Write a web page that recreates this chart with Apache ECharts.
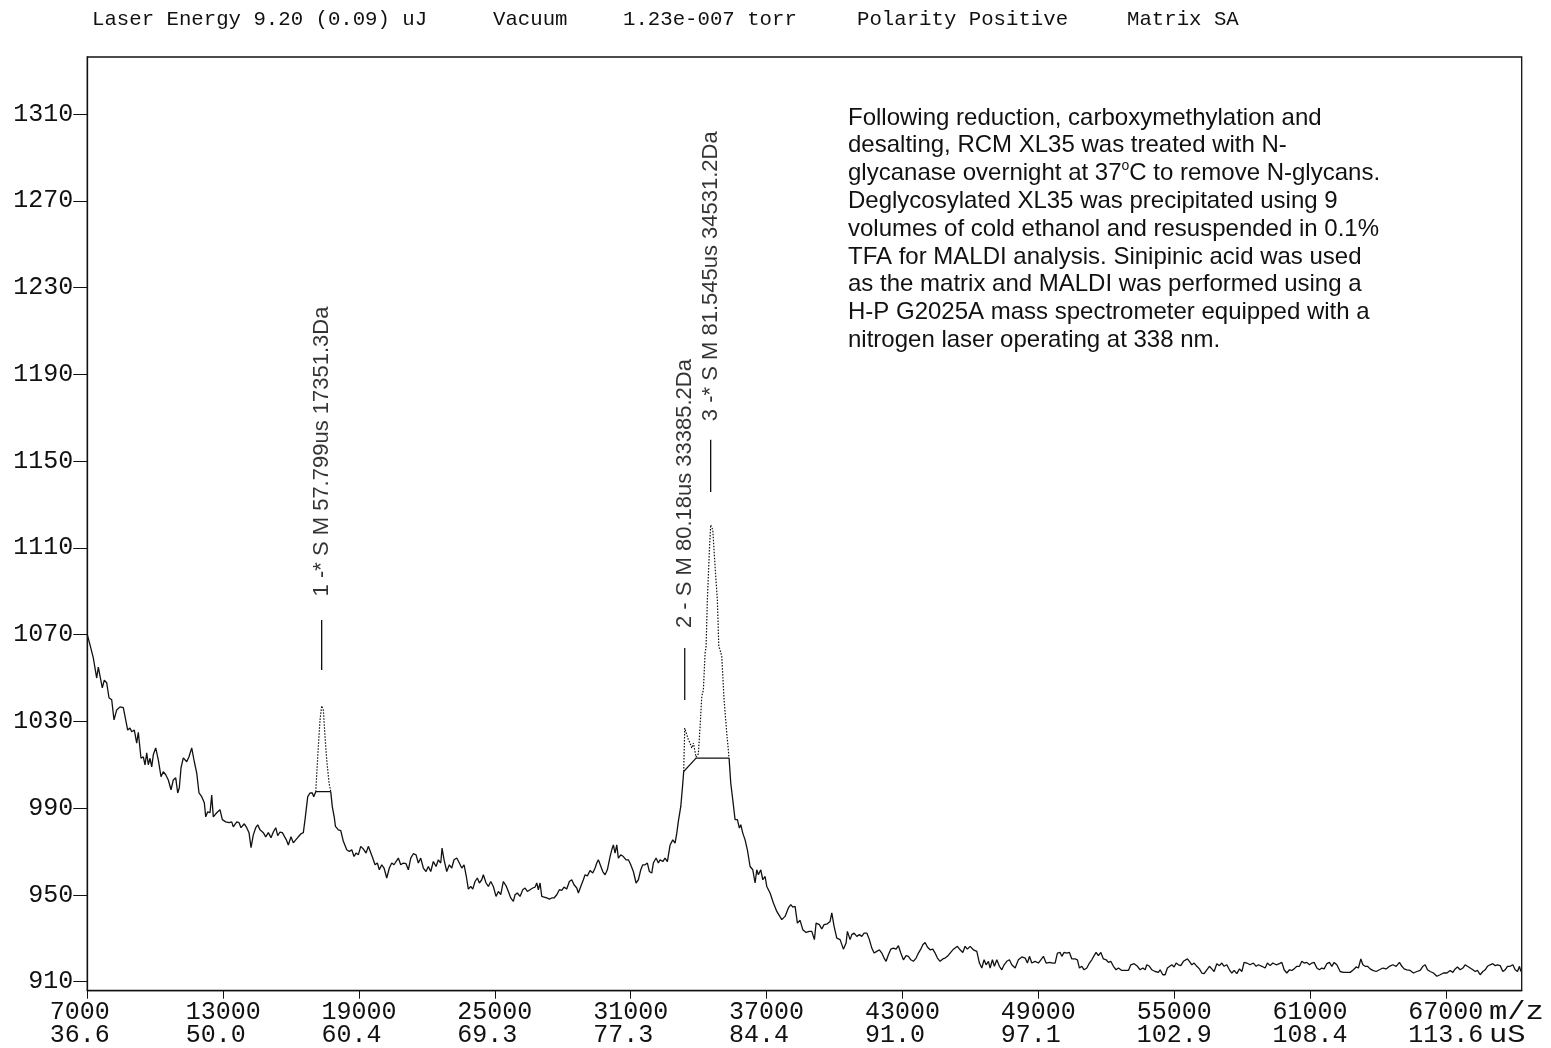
<!DOCTYPE html>
<html>
<head>
<meta charset="utf-8">
<title>MALDI spectrum – deglycosylated RCM XL35</title>
<script src="https://cdn.jsdelivr.net/npm/echarts@6/dist/echarts.min.js"></script>
<style>
  html, body { margin: 0; padding: 0; background: #ffffff; }
  #chart { width: 1551px; height: 1048px; }
</style>
</head>
<body>
<div id="chart"></div>
<script>
// Axis ticks: m/z positions with their flight times (uS)
const xTickValues = [7000, 13000, 19000, 25000, 31000, 37000, 43000, 49000, 55000, 61000, 67000];
const xTimeLabels = ['36.6', '50.0', '60.4', '69.3', '77.3', '84.4', '91.0', '97.1', '102.9', '108.4', '113.6'];
const yTickValues = [910, 950, 990, 1030, 1070, 1110, 1150, 1190, 1230, 1270, 1310];

// Spectrum trace: m/z and detector counts
const mzValues = [
  7000, 7120, 7265, 7415, 7486, 7561, 7663, 7751, 7857, 7958, 8078, 8179, 8299, 8444, 8590, 8665, 8784, 8886, 8961, 9076,
  9182, 9253, 9372, 9474, 9549, 9624, 9694, 9769, 9845, 9915, 10021, 10136, 10255, 10357, 10463, 10578, 10697, 10799, 10905, 10993,
  11064, 11139, 11240, 11391, 11492, 11611, 11726, 11832, 11934, 12053, 12168, 12230, 12318, 12420, 12495, 12565, 12716, 12861, 12963, 13113,
  13259, 13378, 13449, 13599, 13701, 13789, 13935, 14041, 14142, 14231, 14332, 14438, 14527, 14628, 14774, 14880, 14995, 15114, 15216, 15322,
  15410, 15512, 15613, 15701, 15790, 15878, 15997, 16099, 16205, 16320, 16439, 16541, 16616, 16735, 16837, 16938, 17000, 17089, 17203, 17278,
  17351, 17424, 17499, 17574, 17676, 17751, 17822, 17910, 17960, 18087, 18193, 18308, 18458, 18573, 18679, 18780, 18869, 18970, 19076, 19191,
  19310, 19412, 19487, 19606, 19708, 19809, 19898, 20004, 20105, 20225, 20339, 20445, 20547, 20635, 20737, 20843, 20958, 21077, 21179, 21285,
  21399, 21519, 21620, 21726, 21841, 21960, 22062, 22168, 22283, 22402, 22504, 22610, 22667, 22756, 22875, 22990, 23096, 23197, 23317, 23431,
  23537, 23639, 23727, 23829, 23935, 24023, 24125, 24226, 24315, 24421, 24491, 24611, 24712, 24818, 24933, 25052, 25154, 25260, 25375, 25494,
  25596, 25702, 25816, 25892, 25993, 26112, 26232, 26333, 26435, 26554, 26673, 26775, 26850, 26921, 26996, 27071, 27172, 27292, 27407, 27513,
  27614, 27734, 27848, 27954, 28056, 28175, 28290, 28396, 28497, 28617, 28688, 28794, 28908, 28984, 29085, 29205, 29324, 29426, 29500, 29571,
  29646, 29765, 29867, 29968, 30088, 30163, 30233, 30309, 30384, 30454, 30560, 30675, 30794, 30896, 31002, 31117, 31236, 31338, 31444, 31532,
  31634, 31735, 31824, 31930, 32000, 32120, 32221, 32296, 32416, 32517, 32619, 32738, 32858, 32959, 33034, 33105, 33211, 33300, 33340, 33385,
  33547, 33621, 33697, 33767, 33886, 33988, 34063, 34138, 34209, 34284, 34328, 34385, 34474, 34531, 34624, 34726, 34827, 34889, 34946, 35021,
  35123, 35242, 35344, 35419, 35507, 35609, 35711, 35799, 35861, 35949, 36051, 36152, 36272, 36391, 36493, 36568, 36638, 36744, 36833, 36934,
  37009, 37155, 37301, 37451, 37672, 37817, 37963, 38069, 38158, 38259, 38361, 38480, 38599, 38745, 38891, 38997, 39112, 39187, 39332, 39438,
  39540, 39686, 39805, 39880, 39982, 40101, 40247, 40393, 40512, 40569, 40689, 40764, 40865, 40984, 41099, 41205, 41307, 41426, 41541, 41647,
  41749, 41868, 41983, 42089, 42190, 42279, 42380, 42486, 42601, 42720, 42822, 42928, 43043, 43162, 43264, 43370, 43484, 43604, 43706, 43811,
  43900, 44001, 44103, 44222, 44341, 44443, 44545, 44664, 44783, 44885, 44986, 45105, 45225, 45326, 45428, 45547, 45666, 45768, 45870, 45989,
  46135, 46285, 46400, 46506, 46607, 46696, 46798, 46872, 46974, 47062, 47168, 47283, 47389, 47491, 47610, 47725, 47831, 47977, 48122, 48273,
  48419, 48520, 48609, 48714, 48860, 49006, 49112, 49227, 49346, 49492, 49642, 49743, 49845, 49964, 50040, 50141, 50260, 50375, 50481, 50627,
  50728, 50817, 50923, 51024, 51143, 51258, 51364, 51466, 51554, 51656, 51762, 51877, 51996, 52098, 52203, 52318, 52438, 52540, 52690, 52836,
  52981, 53087, 53233, 53379, 53498, 53617, 53719, 53794, 53909, 54015, 54160, 54306, 54381, 54500, 54602, 54704, 54792, 54898, 55000, 55088,
  55189, 55295, 55410, 55485, 55587, 55675, 55781, 55883, 56002, 56117, 56223, 56325, 56444, 56559, 56665, 56766, 56885, 57000, 57106, 57208,
  57327, 57442, 57548, 57650, 57769, 57884, 57990, 58091, 58211, 58357, 58502, 58622, 58723, 58873, 59019, 59121, 59240, 59359, 59505, 59651,
  59757, 59858, 59977, 60092, 60198, 60300, 60419, 60534, 60640, 60742, 60861, 60976, 61082, 61183, 61303, 61417, 61523, 61625, 61744, 61859,
  61965, 62067, 62186, 62332, 62478, 62628, 62774, 62919, 63039, 63140, 63246, 63335, 63436, 63538, 63657, 63776, 63922, 64068, 64218, 64364,
  64510, 64660, 64806, 64952, 65057, 65159, 65278, 65424, 65570, 65720, 65866, 65985, 66087, 66188, 66307, 66453, 66603, 66749, 66895, 67045,
  67191, 67310, 67411, 67513, 67632, 67752, 67853, 67955, 68074, 68193, 68295, 68396, 68516, 68635, 68737, 68838, 68957, 69077, 69178, 69280,
  69399, 69518, 69620, 69721, 69841, 69960, 70061, 70163, 70252, 70313
];
const intensities = [
  1070, 1065.3, 1059.3, 1050, 1055, 1055, 1045.5, 1049, 1047.8, 1040.9, 1040, 1030.7, 1035.3, 1036.7, 1036.3, 1037.2, 1026, 1027, 1025.2, 1026,
  1020, 1025, 1013, 1013.7, 1010, 1015.5, 1010, 1013, 1009, 1014.6, 1017.8, 1012.3, 1004.5, 1006.8, 1005.4, 1003, 998.5, 1003, 1004, 997,
  999.4, 1008.6, 1013.2, 1011.4, 1013.7, 1017.8, 1011.4, 1006.3, 997, 995.3, 992.5, 986, 988.3, 987.9, 996, 986, 987.9, 989.3, 984.7, 983.7,
  983.3, 983.7, 981.4, 983.7, 983.3, 981, 982.8, 981, 978.7, 971.8, 977.7, 981, 982.3, 980, 978.7, 976.8, 978.7, 976.4, 979, 981,
  977.3, 979, 978.7, 979.6, 975.4, 973, 976.8, 974, 975.4, 976.8, 978.2, 978.7, 984.7, 995.3, 997, 997, 995.3, 997.6, 1018.3, 1030.7,
  1037.2, 1035.3, 1022.9, 1012.3, 1001.7, 997.6, 990.6, 985.6, 981.6, 980, 979.7, 974.7, 970.8, 970, 970.8, 967.7, 969.3, 968.5, 972.4, 971.2,
  969.3, 972.4, 972.7, 967, 963.9, 964.7, 961.6, 963.9, 962.4, 957.8, 962.4, 964.7, 963.9, 965.4, 967, 963.9, 964.7, 964.4, 961.6, 967,
  969, 968.5, 964.7, 967, 962.4, 960.8, 963.1, 960.8, 965.4, 963.1, 966.2, 964.7, 971.6, 966.2, 960.8, 963.9, 962.4, 966.2, 967, 964.7,
  962.4, 963.9, 959.3, 952.7, 953.9, 952.7, 956.2, 957.8, 955.5, 957, 959.3, 955.5, 953.9, 956.2, 953.9, 949.3, 951.6, 950.1, 956.2, 954.2,
  951.6, 948.6, 947, 950.1, 950.9, 949.3, 952.4, 953.2, 951.6, 952.4, 953.2, 953.6, 955.5, 952.4, 955.5, 949.3, 949, 948.6, 948.1, 948.6,
  948.6, 950.1, 952.4, 952.1, 953.6, 952.7, 956.2, 957, 954.7, 953.2, 950.9, 953.9, 957, 959.3, 958.8, 961.3, 960.1, 962.4, 964.7, 966.2,
  967, 960.8, 959.3, 961.6, 967.7, 970.8, 973.1, 969.3, 973.1, 967, 968.5, 967.7, 966.2, 966.2, 963.9, 960.8, 955.5, 957, 961.6, 963.9,
  963.9, 964.7, 960.8, 960.1, 964.7, 967, 964.7, 966.2, 965.4, 967, 965.4, 973, 975.4, 973.9, 978.5, 984, 990.8, 1001.5, 1006.9, 1026.9,
  1021.5, 1020, 1017.7, 1020, 1013.5, 1015.1, 1027.6, 1041.5, 1044.6, 1061.4, 1064.5, 1086, 1109, 1120.6, 1118.3, 1101.3, 1086, 1064.5, 1063, 1059.9,
  1040, 1024.6, 1013.1, 1001.5, 993.9, 984.7, 984.7, 980.8, 982.4, 978.5, 975.4, 970.8, 963.1, 961.6, 955.5, 961.6, 959.3, 961.6, 957, 958.5,
  953.9, 950.9, 946.3, 942.4, 938.6, 940.1, 944, 945.5, 944.4, 944.7, 937, 938.3, 934, 932.7, 933.2, 933.2, 929.4, 937, 936.3, 934.3,
  936.3, 936.7, 937.8, 941.7, 935.5, 930.1, 929.4, 925, 927.8, 933.2, 929.4, 931.7, 932.4, 930.9, 931.7, 930.9, 932.4, 932.4, 929.4, 925.5,
  923.2, 924, 924.7, 923.2, 920.9, 919.4, 922.4, 925, 925.5, 925, 926.6, 923.2, 920.1, 922, 921.7, 920.1, 919.4, 920.9, 923.2, 925,
  927, 928.1, 926, 924.7, 925, 923.2, 920.9, 919.4, 920.5, 920.9, 921.7, 923.2, 924.7, 925.5, 926.3, 924.7, 923.5, 926.3, 925, 926.3,
  924.7, 924, 918.6, 916.3, 920.1, 917.8, 919.4, 916.3, 920.1, 917.1, 920.1, 917.1, 915.5, 917.8, 919.4, 920.1, 917.8, 916.3, 920.1, 921.4,
  920.9, 918.6, 921.7, 918.6, 919.4, 918.6, 920.1, 921.7, 918.6, 918.9, 918.6, 918.6, 923.2, 923.5, 921.7, 923.5, 923.2, 923.5, 920.5, 920.5,
  920.1, 916.3, 917.1, 915.5, 916.3, 918.6, 920.1, 922, 923.5, 922, 923.5, 920.5, 920.1, 918.9, 919.4, 917.1, 915.5, 916.3, 915.2, 915.2,
  915.2, 917.8, 918.3, 917.1, 915.5, 916.3, 915.5, 917.8, 917.1, 915.5, 914.7, 914.3, 915.5, 913.2, 913.2, 916.3, 915.5, 917.8, 916.8, 918.6,
  917.8, 917.4, 919.4, 918.6, 920.5, 919.4, 917.8, 918.6, 917.1, 915.9, 914, 913.7, 915.5, 917.1, 915.9, 914.7, 918.3, 917.4, 918.6, 917.1,
  917.8, 915.5, 914, 915.2, 913.7, 915.9, 914.7, 918.9, 918.6, 917.8, 918.6, 917.1, 917.8, 917.1, 916.3, 918.6, 917.4, 918.6, 917.8, 918.3,
  918.9, 915.5, 914, 915.5, 915.2, 915.9, 917.1, 917.1, 919.4, 918.6, 918.9, 917.8, 918.6, 918.9, 916.3, 915.5, 916.3, 915.9, 918.3, 918.9,
  917.1, 918.9, 917.8, 914.7, 914.3, 914.3, 914.3, 915.5, 916.8, 916.3, 920.5, 917.8, 917.1, 917.1, 915.9, 915.2, 914.7, 915.5, 916.3, 915.9,
  917.1, 917.8, 917.1, 918.9, 917.1, 915.9, 915.5, 915.2, 914, 914.7, 915.2, 917.1, 917.8, 915.5, 914.7, 914, 912.5, 913.2, 914, 914,
  915.2, 914.3, 915.9, 916.8, 915.5, 916.3, 917.8, 917.1, 916.3, 915.5, 914.7, 915.2, 913.2, 914.7, 915.5, 917.1, 917.8, 918.3, 917.4, 917.8,
  917.4, 914.7, 915.5, 917.1, 917.1, 917.8, 915.5, 914.7, 917.1, 914.7
];

// Annotated peaks: apex m/z, label text, marker bar span and label start (counts)
const peakMz = [17351.3, 33385.2, 34531.2];
const peakLabels = ['1 -* S M 57.799us 17351.3Da', '2 - S M 80.18us 33385.2Da', '3 -* S M 81.545us 34531.2Da'];
const markerBottom = [1053.7, 1039.9, 1135.8];
const markerTop = [1076.8, 1063.8, 1159.8];
const labelBase = [1089.0, 1074.4, 1169.8];

// Integration windows (drawn dotted above their baselines)
const integrationWindows = [[17089, 17751], [33340, 35344]];
const baselinePaths = [
  [[17089, 997.6], [17751, 997.6]],
  [[33340, 1006.9], [33886, 1013.1], [35344, 1013.1]]
];

// Acquisition settings shown in the header row
const headerItems = ['Laser Energy 9.20 (0.09) uJ', 'Vacuum', '1.23e-007 torr', 'Polarity Positive', 'Matrix SA'];
const headerX = [92, 493, 623, 857, 1127];

const noteLines = [
  'Following reduction, carboxymethylation and',
  'desalting, RCM XL35 was treated with N-',
  'glycanase overnight at 37{sup|o}C to remove N-glycans.',
  'Deglycosylated XL35 was precipitated using 9',
  'volumes of cold ethanol and resuspended in 0.1%',
  'TFA for MALDI analysis. Sinipinic acid was used',
  'as the matrix and MALDI was performed using a',
  'H-P G2025A mass spectrometer equipped with a',
  'nitrogen laser operating at 338 nm.'
];

const INK = '#111111';
const MONO = "'Liberation Mono', 'Courier New', monospace";
const SANS = "'Liberation Sans', Arial, sans-serif";
const GAP = '-';

// Split the trace: solid outside the integration windows, dotted inside them
const trace = mzValues.map((m, i) => [m, intensities[i]]);
const insideWindow = m => integrationWindows.some(w => m > w[0] && m < w[1]);
const solidTrace = [];
trace.forEach(p => {
  if (insideWindow(p[0])) {
    if (solidTrace.length && solidTrace[solidTrace.length - 1][1] !== GAP) solidTrace.push([p[0], GAP]);
  } else {
    solidTrace.push(p);
  }
});
const dottedTrace = [];
integrationWindows.forEach(w => {
  trace.filter(p => p[0] >= w[0] && p[0] <= w[1]).forEach(p => dottedTrace.push(p));
  dottedTrace.push([w[1] + 1, GAP]);
});

const baselineData = [];
baselinePaths.forEach(path => {
  path.forEach(p => baselineData.push(p));
  baselineData.push([path[path.length - 1][0] + 1, GAP]);
});

const markerData = [];
peakMz.forEach((m, i) => {
  markerData.push([m, markerBottom[i]], [m, markerTop[i]], [m + 1, GAP]);
});

const labelData = peakMz.map((m, i) => [m, labelBase[i]]);

const headerGraphics = headerItems.map((t, i) => ({
  type: 'text', x: headerX[i], y: 20, silent: true,
  style: { text: t, font: '20.7px ' + MONO, fill: INK, verticalAlign: 'middle', textVerticalAlign: 'middle' }
}));

const chart = echarts.init(document.getElementById('chart'), null, { renderer: 'canvas' });

chart.setOption({
  animation: false,
  backgroundColor: '#ffffff',
  grid: {
    left: 87.3, right: 29.3, top: 57, bottom: 57.3,
    show: true, borderColor: INK, borderWidth: 1.3,
    outerBoundsMode: 'none'
  },
  xAxis: {
    type: 'value', min: 7000, max: 70350,
    axisLine: { show: true, onZero: false, lineStyle: { color: INK, width: 1.3 } },
    axisTick: { show: true, customValues: xTickValues, length: 8, lineStyle: { color: INK, width: 1 } },
    axisLabel: {
      customValues: xTickValues,
      formatter: v => {
        const i = xTickValues.indexOf(v);
        return String(v).padEnd(5) + '\n' + xTimeLabels[i].padEnd(5);
      },
      fontFamily: MONO, fontSize: 25, lineHeight: 23, color: INK, margin: 10
    },
    splitLine: { show: false }
  },
  yAxis: {
    type: 'value', min: 905.85, max: 1336.3,
    axisLine: { show: true, onZero: false, lineStyle: { color: INK, width: 1.3 } },
    axisTick: { show: true, customValues: yTickValues, length: 14, lineStyle: { color: INK, width: 1 } },
    axisLabel: {
      customValues: yTickValues, formatter: v => String(v),
      fontFamily: MONO, fontSize: 25, color: INK, margin: 14
    },
    splitLine: { show: false }
  },
  series: [
    {
      name: 'spectrum', type: 'line', data: solidTrace, showSymbol: false, connectNulls: false,
      lineStyle: { color: INK, width: 1.3 }, silent: true
    },
    {
      name: 'integrated peaks', type: 'line', data: dottedTrace, showSymbol: false, connectNulls: false,
      lineStyle: { color: INK, width: 1.2, type: [1.5, 1.5] }, silent: true
    },
    {
      name: 'baselines', type: 'line', data: baselineData, showSymbol: false, connectNulls: false,
      lineStyle: { color: INK, width: 1.2 }, silent: true
    },
    {
      name: 'peak markers', type: 'line', data: markerData, showSymbol: false, connectNulls: false,
      lineStyle: { color: INK, width: 1.3 }, silent: true
    },
    {
      name: 'peak labels', type: 'scatter', data: labelData, symbolSize: 1,
      itemStyle: { color: 'rgba(0,0,0,0)' }, silent: true,
      label: {
        show: true, position: 'inside', rotate: 90, align: 'left', verticalAlign: 'middle',
        offset: [-3, 0],
        formatter: p => peakLabels[p.dataIndex],
        fontFamily: SANS, fontSize: 22, color: '#000000'
      }
    }
  ],
  graphic: headerGraphics.concat([
    {
      type: 'text', x: 848, y: 104, silent: true,
      style: {
        text: noteLines.join('\n'), fontFamily: SANS, fontSize: 24, lineHeight: 27.8, fill: INK,
        verticalAlign: 'top', textVerticalAlign: 'top',
        rich: {
          sup: { fontFamily: SANS, fontSize: 14, lineHeight: 16, verticalAlign: 'top', fill: INK }
        }
      }
    },
    {
      type: 'text', x: 1489, y: 1000.5, scaleX: 1.22, silent: true,
      style: {
        text: 'm/z\nuS', fontFamily: MONO, fontSize: 25, lineHeight: 23, fill: INK,
        verticalAlign: 'top', textVerticalAlign: 'top'
      }
    }
  ])
});
</script>
</body>
</html>
